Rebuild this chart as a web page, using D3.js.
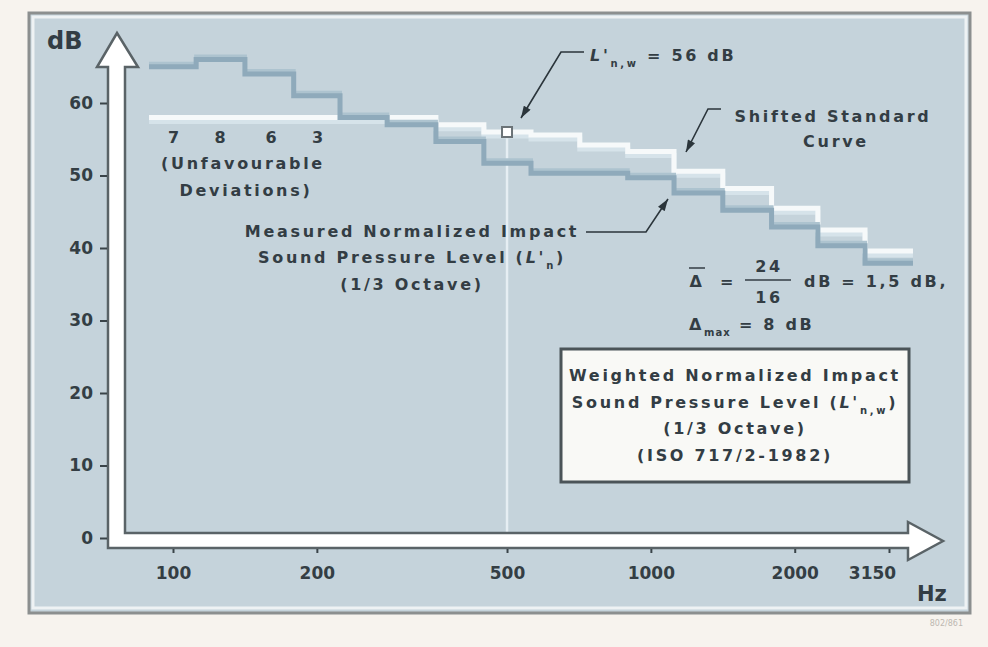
<!DOCTYPE html>
<html>
<head>
<meta charset="utf-8">
<script src="https://cdn.jsdelivr.net/npm/d3@7"></script>
<style>
    body { margin: 0; background: #f7f3ee; }
    svg { display: block; }
    text { font-family: "DejaVu Sans", sans-serif; font-weight: bold; fill: #333d44; }
    .note { font-size: 16px; letter-spacing: 2.7px; }
</style>
</head>
<body>
<div class="chart"></div>
<script>
// third-octave bands and levels (dB)
var bands = [100, 125, 160, 200, 250, 315, 400, 500, 630, 800, 1000, 1250, 1600, 2000, 2500, 3150];
var measured = [65, 66, 64, 61, 58, 57, 54.7, 51.7, 50.3, 50.3, 49.7, 47.6, 45.2, 42.9, 40.3, 37.9];
var shifted = [58, 58, 58, 58, 58, 58, 57, 56, 55.6, 54.2, 53.3, 50.6, 48.2, 45.5, 42.5, 39.6];
var deviations = [7, 8, 6, 3];
var yTicks = [0, 10, 20, 30, 40, 50, 60];
var xTicks = [100, 200, 500, 1000, 2000, 3150];
var ratingFreq = 500;
var ratingValue = 56;

var width = 988;
var height = 647;

var svg = d3.select('.chart')
    .append('svg')
    .attr('width', width)
    .attr('height', height);

var xScale = d3.scaleLog()
    .domain([100, 3150])
    .range([173, 889]);

var yScale = d3.scaleLinear()
    .domain([0, 60])
    .range([538, 103]);

// arrow marker for the leader lines
svg.append('defs')
    .append('marker')
    .attr('id', 'arr')
    .attr('viewBox', '0 -4 12 8')
    .attr('markerUnits', 'userSpaceOnUse')
    .attr('markerWidth', 13)
    .attr('markerHeight', 8)
    .attr('refX', 12)
    .attr('refY', 0)
    .attr('orient', 'auto')
    .append('path')
    .attr('d', 'M0,-4L12,0L0,4Z')
    .style('fill', '#2b353b');

/**
 * Panel
 */
svg.append('rect')
    .attr('x', 29).attr('y', 13)
    .attr('width', 941).attr('height', 600)
    .style('fill', '#c5d3db')
    .style('stroke', '#8c8f8f')
    .style('stroke-width', 3);
svg.append('rect')
    .attr('x', 33).attr('y', 17)
    .attr('width', 933).attr('height', 591)
    .style('fill', 'none')
    .style('stroke', '#eef2f4')
    .style('stroke-width', 3);

svg.append('text')
    .attr('x', 963).attr('y', 626)
    .attr('text-anchor', 'end')
    .style('font-size', '8px')
    .style('font-weight', 'normal')
    .style('fill', '#bdb8b1')
    .text('802/861');

/**
 * Step curves
 */
var step = Math.pow(2, 1 / 6);
function stepPoints(values) {
    var pts = [];
    bands.forEach(function (f, i) {
        var lo = i === 0 ? f / step : Math.sqrt(bands[i - 1] * f);
        var hi = i === bands.length - 1 ? f * step : Math.sqrt(f * bands[i + 1]);
        pts.push([xScale(lo), yScale(values[i])]);
        pts.push([xScale(hi), yScale(values[i])]);
    });
    return pts;
}
var line = d3.line();

// line down from the rating point
svg.append('line')
    .attr('x1', xScale(ratingFreq)).attr('x2', xScale(ratingFreq))
    .attr('y1', yScale(ratingValue) + 6).attr('y2', 533)
    .style('stroke', '#e6eef3')
    .style('stroke-width', 2.5);

// shifted standard curve
svg.append('path')
    .attr('d', line(stepPoints(shifted)))
    .attr('transform', 'translate(0,4)')
    .style('fill', 'none')
    .style('stroke', '#d6e3ea')
    .style('stroke-width', 5);
svg.append('path')
    .attr('d', line(stepPoints(shifted)))
    .style('fill', 'none')
    .style('stroke', '#f6f9fa')
    .style('stroke-width', 5);

// measured curve
svg.append('path')
    .attr('d', line(stepPoints(measured)))
    .attr('transform', 'translate(0,-3)')
    .style('fill', 'none')
    .style('stroke', '#adc3cf')
    .style('stroke-width', 4);
svg.append('path')
    .attr('d', line(stepPoints(measured)))
    .style('fill', 'none')
    .style('stroke', '#8faabb')
    .style('stroke-width', 5);

// rating point
svg.append('rect')
    .attr('x', xScale(ratingFreq) - 5)
    .attr('y', yScale(ratingValue) - 5)
    .attr('width', 10).attr('height', 10)
    .style('fill', '#ffffff')
    .style('stroke', '#6b7377')
    .style('stroke-width', 2);

/**
 * Axis arrows (L-shaped white ribbon)
 */
var ax = 108, ax2 = 125, ay = 548, ay2 = 533, axEnd = 908;
var outline = [
    [117, 33], [138, 67], [ax2, 67], [ax2, ay2], [axEnd, ay2], [axEnd, 522],
    [943, 541], [axEnd, 560], [axEnd, ay], [ax, ay], [ax, 67], [97, 67]
];
svg.append('path')
    .attr('d', d3.line()(outline) + 'Z')
    .style('fill', '#ffffff')
    .style('stroke', '#5a6367')
    .style('stroke-width', 2.5)
    .style('stroke-linejoin', 'miter');

/**
 * Y axis
 */
var yAxis = d3.axisLeft(yScale)
    .tickValues(yTicks)
    .tickSize(7)
    .tickPadding(7);
var gy = svg.append('g')
    .attr('transform', 'translate(' + (ax - 1) + ',0)')
    .call(yAxis);
gy.select('.domain').remove();
gy.selectAll('line').style('stroke', '#3a4449').style('stroke-width', 2);
gy.selectAll('text')
    .style('font-family', '"DejaVu Sans", sans-serif')
    .style('font-size', '17px')
    .style('fill', '#343e44');

/**
 * X axis
 */
var xAxis = d3.axisBottom(xScale)
    .tickValues(xTicks)
    .tickSize(4)
    .tickFormat(d3.format('d'));
var gx = svg.append('g')
    .attr('transform', 'translate(0,' + (ay + 1) + ')')
    .call(xAxis);
gx.select('.domain').remove();
gx.selectAll('line').style('stroke', '#3a4449').style('stroke-width', 2);
gx.selectAll('text')
    .attr('y', 30)
    .attr('dy', 0)
    .attr('dx', d => d === 3150 ? -17 : 0)
    .style('font-family', '"DejaVu Sans", sans-serif')
    .style('font-size', '17px')
    .style('fill', '#343e44');

svg.append('text')
    .attr('x', 47).attr('y', 49)
    .style('font-size', '24px')
    .text('dB');
svg.append('text')
    .attr('x', 917).attr('y', 601)
    .style('font-size', '21px')
    .text('Hz');

/**
 * Deviations
 */
svg.selectAll('.dev')
    .data(deviations)
    .enter()
    .append('text')
    .attr('class', 'note dev')
    .attr('x', (d, i) => xScale(bands[i]) + 2)
    .attr('y', 143)
    .attr('text-anchor', 'middle')
    .text(d => d);

function note(x, y, str) {
    return svg.append('text')
        .attr('class', 'note')
        .attr('x', x).attr('y', y)
        .attr('text-anchor', 'middle')
        .text(str);
}
note(243, 169, '(Unfavourable');
note(246, 196, 'Deviations)');

// measured label
note(412, 237, 'Measured Normalized Impact');
var t2 = svg.append('text').attr('class', 'note')
    .attr('x', 412).attr('y', 263).attr('text-anchor', 'middle');
t2.append('tspan').text('Sound Pressure Level (');
t2.append('tspan').style('font-style', 'italic').text("L'");
t2.append('tspan').attr('baseline-shift', 'sub').style('font-size', '10px').text('n');
t2.append('tspan').text(')');
note(412, 290, '(1/3 Octave)');

svg.append('path')
    .attr('d', d3.line()([[586, 232], [646, 232], [668, 199]]))
    .attr('marker-end', 'url(#arr)')
    .style('fill', 'none')
    .style('stroke', '#2b353b')
    .style('stroke-width', 1.6);

// rating label
var t1 = svg.append('text').attr('class', 'note')
    .attr('x', 590).attr('y', 61);
t1.append('tspan').style('font-style', 'italic').text("L'");
t1.append('tspan').attr('baseline-shift', 'sub').style('font-size', '10px').text('n,w');
t1.append('tspan').text(' = ' + ratingValue + ' dB');

svg.append('path')
    .attr('d', d3.line()([[584, 52], [561, 52], [521, 118]]))
    .attr('marker-end', 'url(#arr)')
    .style('fill', 'none')
    .style('stroke', '#2b353b')
    .style('stroke-width', 1.6);

// shifted curve label
note(833, 122, 'Shifted Standard');
note(836, 147, 'Curve');
svg.append('path')
    .attr('d', d3.line()([[721, 109], [708, 109], [686, 152]]))
    .attr('marker-end', 'url(#arr)')
    .style('fill', 'none')
    .style('stroke', '#2b353b')
    .style('stroke-width', 1.6);

/**
 * Mean / max deviation
 */
svg.append('text').attr('class', 'note').attr('x', 697).attr('y', 287)
    .attr('text-anchor', 'middle').text('Δ');
svg.append('line')
    .attr('x1', 689).attr('x2', 705).attr('y1', 268).attr('y2', 268)
    .style('stroke', '#333d44').style('stroke-width', 1.5);
svg.append('text').attr('class', 'note').attr('x', 728).attr('y', 287)
    .attr('text-anchor', 'middle').text('=');
svg.append('text').attr('class', 'note').attr('x', 769).attr('y', 272)
    .attr('text-anchor', 'middle').text(d3.sum(deviations));
svg.append('line')
    .attr('x1', 745).attr('x2', 791).attr('y1', 280).attr('y2', 280)
    .style('stroke', '#333d44').style('stroke-width', 1.5);
svg.append('text').attr('class', 'note').attr('x', 769).attr('y', 303)
    .attr('text-anchor', 'middle').text(bands.length);
svg.append('text').attr('class', 'note').attr('x', 804).attr('y', 287)
    .text('dB = 1,5 dB,');

var t3 = svg.append('text').attr('class', 'note').attr('x', 689).attr('y', 330);
t3.append('tspan').text('Δ');
t3.append('tspan').attr('baseline-shift', 'sub').style('font-size', '10px')
    .style('letter-spacing', '1px').text('max');
t3.append('tspan').text(' = ' + d3.max(deviations) + ' dB');

/**
 * Box
 */
svg.append('rect')
    .attr('x', 561).attr('y', 349)
    .attr('width', 348).attr('height', 133)
    .style('fill', '#f9f9f6')
    .style('stroke', '#4b5458')
    .style('stroke-width', 3);
var bx = 735;
note(bx, 381, 'Weighted Normalized Impact');
var t4 = svg.append('text').attr('class', 'note')
    .attr('x', bx).attr('y', 408).attr('text-anchor', 'middle');
t4.append('tspan').text('Sound Pressure Level (');
t4.append('tspan').style('font-style', 'italic').text("L'");
t4.append('tspan').attr('baseline-shift', 'sub').style('font-size', '10px').text('n,w');
t4.append('tspan').text(')');
note(bx, 434, '(1/3 Octave)');
note(bx, 461, '(ISO 717/2-1982)');
</script>
</body>
</html>
